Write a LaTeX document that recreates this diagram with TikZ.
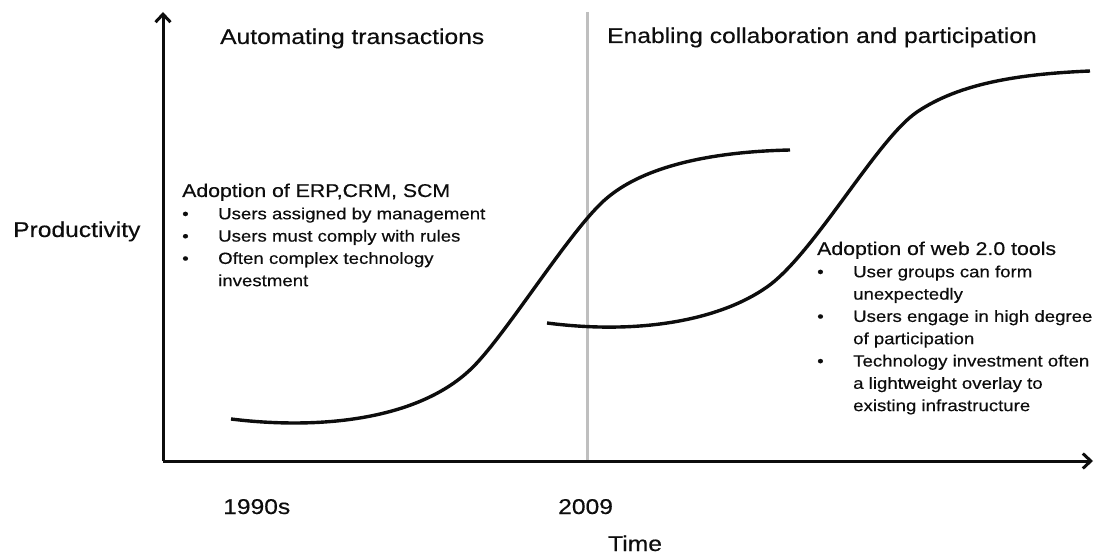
\documentclass[tikz,border=0pt]{standalone}
\usepackage{fontspec}
\setmainfont{Liberation Sans}[FakeStretch=1.15,FakeBold=0.4]
\usetikzlibrary{arrows.meta,calc,positioning}
\definecolor{ink}{HTML}{0D0D0D}
\definecolor{divgray}{HTML}{BFBFBF}
\tikzset{axis/.style={-{Straight Barb[length=8pt,width=15pt]}, line width=3pt, color=ink}, curve/.style={line width=3.4pt, color=ink}, divider/.style={line width=3pt, color=divgray}, lab/.style={anchor=base west, inner sep=0pt, text=ink, font=\fontsize{21.4}{25}\selectfont}, note/.style={anchor=base west, inner sep=0pt, text=ink, font=\fontsize{16.2}{22.3}\selectfont}}
\newcommand{\hd}{\fontsize{18.5}{22.3}\selectfont}
\newcommand{\bul}{\makebox[36pt][l]{\textbullet}}

\begin{document}
\begin{tikzpicture}[x=1pt,y=-1pt]
\useasboundingbox (0,0) rectangle (1101,556);
\coordinate (O) at (163,461); \coordinate (Ytop) at (163,12); \coordinate (Xend) at (1093,461); \coordinate (Dtop) at (587,12);
\draw[divider] (Dtop) -- (Dtop |- O);
\draw[axis] (O) -- (Ytop);
\draw[axis] (O) -- (Xend);
% first S-curve, then the second one starting lower
\draw[curve] (231,419) .. controls (320,430) and (420,420) .. (473,367) .. controls (508,332) and (572,227) .. (607,198) .. controls (640,170) and (700,152) .. (790,150);
\draw[curve] (547,323) .. controls (640,335) and (720,320) .. (767,287) .. controls (814,254) and (877,139) .. (917,112) .. controls (960,83) and (1020,74) .. (1090,71);
\node[lab] (autotitle) at (220,44) {Automating transactions};
\node[lab] (collabtitle) at (607,43) {Enabling collaboration and participation};
\node[lab] (ylabel) at (13,237) {Productivity};
\node[lab] (t1990) at (223,514) {1990s};
\node[lab] (t2009) at (558,514) {2009};
\node[lab] (xlabel) at (608,551) {Time};
\node[note] (erp) at (182,197) {\begin{tabular}[t]{@{}l@{}l@{}}
\multicolumn{2}{@{}l@{}}{\hd Adoption of ERP,CRM, SCM}\\
\bul & Users assigned by management\\
\bul & Users must comply with rules\\
\bul & Often complex technology\\
 & investment
\end{tabular}};
\node[note] (web) at (817,255) {\begin{tabular}[t]{@{}l@{}l@{}}
\multicolumn{2}{@{}l@{}}{\hd Adoption of web 2.0 tools}\\
\bul & User groups can form\\
 & unexpectedly\\
\bul & Users engage in high degree\\
 & of participation\\
\bul & Technology investment often\\
 & a lightweight overlay to\\
 & existing infrastructure
\end{tabular}};
\end{tikzpicture}
\end{document}
